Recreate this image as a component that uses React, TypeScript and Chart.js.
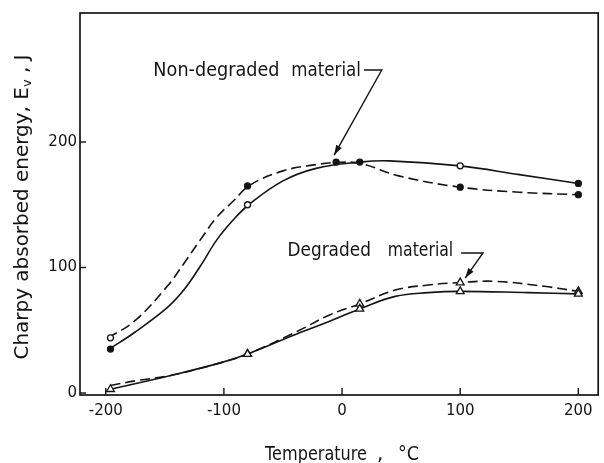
import React, { useEffect, useRef } from "react";
import { Chart, registerables } from "chart.js";

Chart.register(...registerables);

// ---- axis ticks ----
const xTicks = [-200, -100, 0, 100, 200];
const yTicks = [0, 100, 200];

// ---- measured points (temperature °C, energy J) ----
const ndSolidT = [-196, -80, 15, 100, 200];
const ndSolidE = [35, 150, 184, 181, 167];
const ndDashT = [-196, -80, -5, 100, 200];
const ndDashE = [44, 165, 184, 164, 158];
const dgSolidT = [-196, -80, 15, 100, 200];
const dgSolidE = [3, 31, 67, 81, 79];
const dgDashT = [-80, 15, 100, 200];
const dgDashE = [31, 71, 88, 81];

// ---- hand-drawn fitted curves ----
const ndSolidCurveT = [-197, -176, -148, -134, -120, -106, -92, -79, -50, -22, 15, 40, 100, 150, 200];
const ndSolidCurveE = [35, 48, 68, 82, 101, 122, 138, 150, 169, 179, 184, 185, 181, 174, 167];
const ndDashCurveT = [-198, -176, -148, -134, -120, -106, -92, -78, -50, -22, -5, 15, 48, 100, 150, 200];
const ndDashCurveE = [44, 57, 85, 103, 122, 140, 153, 165.6, 177, 182, 183.7, 183, 173, 164, 160, 158];
const dgSolidCurveT = [-196, -145, -103, -80, -36, -11, 15, 45, 73, 100, 157, 200];
const dgSolidCurveE = [3, 14, 24, 31, 48, 57, 67, 77, 80, 81, 80, 79];
const dgDashCurveT = [-196, -173, -145, -103, -80, -36, -11, 15, 45, 73, 100, 129, 171, 200];
const dgDashCurveE = [6, 10, 14, 24, 31, 50, 62, 71, 82, 86, 88, 89, 85, 81];

// ---- text ----
const yTitleMain = "Charpy absorbed energy, E";
const yTitleSub = "v";
const yTitleTail = " , J";
const xTitleWord = "Temperature";
const xTitleComma = ",";
const xTitleUnit = "°C";
const ndLabelWords = ["Non-degraded", "material"];
const dgLabelWords = ["Degraded", "material"];

const INK = "#141414";
const FONT = "'DejaVu Sans', 'Liberation Sans', sans-serif";

type Pt = { x: number; y: number };
const toXY = (xs: number[], ys: number[]): Pt[] => xs.map((x, i) => ({ x, y: ys[i] }));

function drawFitted(ctx: CanvasRenderingContext2D, text: string, x: number, y: number, w: number) {
  const m = ctx.measureText(text).width;
  ctx.save();
  ctx.translate(x, y);
  ctx.scale(w / m, 1);
  ctx.fillText(text, 0, 0);
  ctx.restore();
}

export default function App() {
  const ref = useRef<HTMLCanvasElement>(null);

  useEffect(() => {
    const canvas = ref.current;
    if (!canvas) return;

    const decorPlugin = {
      id: "decor",
      beforeDatasetsDraw(chart: any) {
        const { ctx, chartArea: a, scales } = chart;
        ctx.save();
        ctx.strokeStyle = INK;
        ctx.lineWidth = 1.7;
        ctx.strokeRect(a.left, a.top, a.right - a.left, a.bottom - a.top);
        ctx.lineWidth = 1.4;
        xTicks.forEach((v) => {
          const px = scales.x.getPixelForValue(v);
          ctx.beginPath();
          ctx.moveTo(px, a.bottom);
          ctx.lineTo(px, a.bottom - 7);
          ctx.stroke();
        });
        yTicks.forEach((v) => {
          const py = scales.y.getPixelForValue(v);
          ctx.beginPath();
          ctx.moveTo(a.left, py);
          ctx.lineTo(a.left + 6, py);
          ctx.stroke();
        });
        ctx.restore();
      },
      afterDatasetsDraw(chart: any) {
        const { ctx, scales, chartArea: a } = chart;
        const X = (v: number) => scales.x.getPixelForValue(v);
        const Y = (v: number) => scales.y.getPixelForValue(v);
        ctx.save();
        ctx.fillStyle = INK;
        ctx.strokeStyle = INK;
        ctx.textBaseline = "alphabetic";
        ctx.textAlign = "left";
        ctx.font = `19px ${FONT}`;

        // annotation text (data-space anchors)
        const notes = [
          { words: ndLabelWords, spans: [[-159.7, -52.9], [-42.9, 16.0]], base: 252.6,
            leader: [[18.5, 257.4], [33.6, 257.4], [-6.7, 189.6]] },
          { words: dgLabelWords, spans: [[-46.2, 24.4], [38.7, 94.1]], base: 109.2,
            leader: [[100.8, 111.6], [119.3, 111.6], [104.2, 91.6]] },
        ];
        notes.forEach((n) => {
          n.words.forEach((w, i) => {
            const x0 = X(n.spans[i][0]);
            const x1 = X(n.spans[i][1]);
            drawFitted(ctx, w, x0, Y(n.base), x1 - x0);
          });
          const pts = n.leader.map((p) => [X(p[0]), Y(p[1])]);
          ctx.lineWidth = 1.4;
          ctx.beginPath();
          ctx.moveTo(pts[0][0], pts[0][1]);
          for (let i = 1; i < pts.length; i++) ctx.lineTo(pts[i][0], pts[i][1]);
          ctx.stroke();
          const tip = pts[pts.length - 1];
          const prev = pts[pts.length - 2];
          const ang = Math.atan2(tip[1] - prev[1], tip[0] - prev[0]);
          const L = 10, H = 3.2;
          const bx = tip[0] - L * Math.cos(ang), by = tip[1] - L * Math.sin(ang);
          ctx.beginPath();
          ctx.moveTo(tip[0], tip[1]);
          ctx.lineTo(bx + H * Math.sin(ang), by - H * Math.cos(ang));
          ctx.lineTo(bx - H * Math.sin(ang), by + H * Math.cos(ang));
          ctx.closePath();
          ctx.fill();
        });

        // y axis title (rotated)
        ctx.font = `20px ${FONT}`;
        const wMain = ctx.measureText(yTitleMain).width;
        ctx.font = `13px ${FONT}`;
        const wSub = ctx.measureText(yTitleSub).width;
        ctx.font = `20px ${FONT}`;
        const wTail = ctx.measureText(yTitleTail).width;
        const natural = wMain + wSub + wTail;
        const target = 305;
        const sx = target / natural;
        const cy = (a.top + a.bottom) / 2 + 3;
        ctx.save();
        ctx.translate(28, cy);
        ctx.rotate(-Math.PI / 2);
        ctx.scale(sx, 1);
        let cx = -natural / 2;
        ctx.font = `20px ${FONT}`;
        ctx.fillText(yTitleMain, cx, 0);
        cx += wMain;
        ctx.font = `13px ${FONT}`;
        ctx.fillText(yTitleSub, cx, 3);
        cx += wSub;
        ctx.font = `20px ${FONT}`;
        ctx.fillText(yTitleTail, cx, 0);
        ctx.restore();

        // x axis title
        ctx.font = `20px ${FONT}`;
        drawFitted(ctx, xTitleWord, 265, 460, 102);
        ctx.fillText(xTitleComma, 377, 460);
        drawFitted(ctx, xTitleUnit, 398, 460, 21);
        ctx.restore();
      },
    };

    const lineBase = {
      borderColor: INK,
      borderWidth: 1.6,
      pointRadius: 0,
      pointHoverRadius: 0,
      fill: false,
      tension: 0.4,
    };
    const dash = [10, 5];

    const chart = new Chart(canvas, {
      type: "line",
      data: {
        datasets: [
          {
            label: "Non-degraded (solid) points",
            data: toXY(ndSolidT, ndSolidE),
            showLine: false,
            pointStyle: "circle",
            pointRadius: 3,
            borderWidth: 1.3,
            borderColor: INK,
            backgroundColor: [INK, "#fff", INK, "#fff", INK],
          },
          {
            label: "Non-degraded (dashed) points",
            data: toXY(ndDashT, ndDashE),
            showLine: false,
            pointStyle: "circle",
            pointRadius: 3,
            borderWidth: 1.3,
            borderColor: INK,
            backgroundColor: ["#fff", INK, INK, INK, INK],
          },
          {
            label: "Degraded (solid) points",
            data: toXY(dgSolidT, dgSolidE),
            showLine: false,
            pointStyle: "triangle",
            pointRadius: 4.5,
            borderWidth: 1.3,
            borderColor: INK,
            backgroundColor: "#fff",
          },
          {
            label: "Degraded (dashed) points",
            data: toXY(dgDashT, dgDashE),
            showLine: false,
            pointStyle: "triangle",
            pointRadius: 4.5,
            borderWidth: 1.3,
            borderColor: INK,
            backgroundColor: "#fff",
          },
          { ...lineBase, label: "Non-degraded solid", data: toXY(ndSolidCurveT, ndSolidCurveE) },
          { ...lineBase, label: "Non-degraded dashed", data: toXY(ndDashCurveT, ndDashCurveE), borderDash: dash },
          { ...lineBase, label: "Degraded solid", data: toXY(dgSolidCurveT, dgSolidCurveE) },
          { ...lineBase, label: "Degraded dashed", data: toXY(dgDashCurveT, dgDashCurveE), borderDash: dash },
        ],
      },
      options: {
        animation: false,
        responsive: false,
        maintainAspectRatio: false,
        devicePixelRatio: 1,
        events: [],
        layout: { padding: { left: 0, right: 2, top: 13, bottom: 0 } },
        plugins: { legend: { display: false }, tooltip: { enabled: false } },
        scales: {
          x: {
            type: "linear",
            min: -221.8,
            max: 216.8,
            grid: { display: false, drawTicks: false },
            border: { display: false },
            afterBuildTicks: (s: any) => {
              s.ticks = xTicks.map((v) => ({ value: v }));
            },
            afterFit: (s: any) => {
              s.height = 68;
            },
            ticks: {
              color: INK,
              padding: 7,
              maxRotation: 0,
              autoSkip: false,
              font: { family: FONT, size: 15 },
            },
          },
          y: {
            type: "linear",
            min: -1.6,
            max: 302.8,
            grid: { display: false, drawTicks: false },
            border: { display: false },
            afterBuildTicks: (s: any) => {
              s.ticks = yTicks.map((v) => ({ value: v }));
            },
            afterFit: (s: any) => {
              s.width = 80;
            },
            ticks: {
              color: INK,
              padding: 3,
              autoSkip: false,
              font: { family: FONT, size: 15 },
            },
          },
        },
      },
      plugins: [decorPlugin],
    });

    return () => chart.destroy();
  }, []);

  return (
    <div style={{ position: "fixed", left: 0, top: 0, width: 604, height: 463, background: "#fff" }}>
      <canvas ref={ref} width={604} height={463} style={{ display: "block", width: 604, height: 463 }} />
    </div>
  );
}
